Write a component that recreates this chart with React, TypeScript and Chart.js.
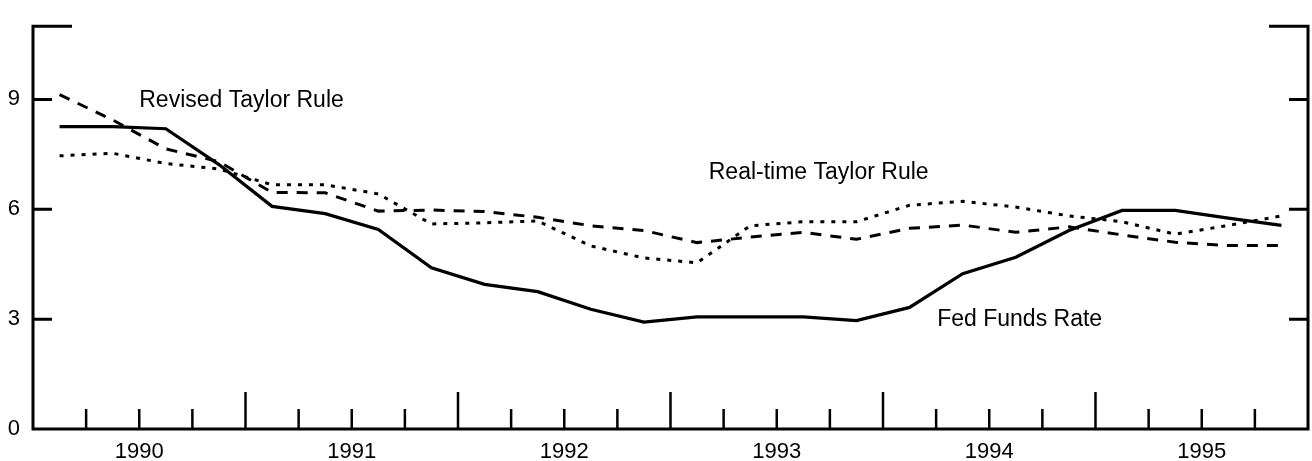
import React, { useEffect, useRef } from "react";
import { Chart, registerables } from "chart.js";

Chart.register(...registerables);

const quarters = [
  "1990Q1", "1990Q2", "1990Q3", "1990Q4",
  "1991Q1", "1991Q2", "1991Q3", "1991Q4",
  "1992Q1", "1992Q2", "1992Q3", "1992Q4",
  "1993Q1", "1993Q2", "1993Q3", "1993Q4",
  "1994Q1", "1994Q2", "1994Q3", "1994Q4",
  "1995Q1", "1995Q2", "1995Q3", "1995Q4",
];

const fedFunds = [
  8.26, 8.26, 8.2, 7.22, 6.08, 5.88, 5.45, 4.4,
  3.95, 3.75, 3.27, 2.92, 3.06, 3.06, 3.06, 2.96,
  3.32, 4.24, 4.69, 5.42, 5.97, 5.97, 5.76, 5.56,
];

const revisedTaylor = [
  9.13, 8.44, 7.65, 7.3, 6.46, 6.45, 5.95, 5.98,
  5.94, 5.78, 5.55, 5.42, 5.09, 5.24, 5.37, 5.18,
  5.48, 5.57, 5.37, 5.52, 5.3, 5.1, 5.01, 5.01,
];

const realTimeTaylor = [
  7.46, 7.53, 7.25, 7.1, 6.67, 6.67, 6.42, 5.6,
  5.63, 5.68, 5.0, 4.67, 4.54, 5.55, 5.66, 5.66,
  6.11, 6.22, 6.06, 5.82, 5.66, 5.32, 5.56, 5.82,
];

const yearLabels = ["1990", "1991", "1992", "1993", "1994", "1995"];
const yTicks = [0, 3, 6, 9];

const seriesNames = ["Fed Funds Rate", "Revised Taylor Rule", "Real-time Taylor Rule"];

function quarterPos(q: string): number {
  const year = parseInt(q.slice(0, 4), 10);
  const qn = parseInt(q.slice(5), 10);
  return year + (qn - 0.5) / 4;
}

const FONT = '"Liberation Sans", Arial, Helvetica, sans-serif';

const annotations = [
  { text: "Revised Taylor Rule", x: 1990.5, y: 8.79 },
  { text: "Real-time Taylor Rule", x: 1993.18, y: 6.82 },
  { text: "Fed Funds Rate", x: 1994.255, y: 2.8 },
];

const framePlugin = {
  id: "frame",
  afterDraw(chart: any) {
    const { ctx, chartArea } = chart;
    const xs = chart.scales.x;
    const ys = chart.scales.y;
    const { left, right, top, bottom } = chartArea;
    ctx.save();
    ctx.strokeStyle = "#000";
    ctx.lineCap = "butt";

    // frame
    ctx.lineWidth = 3;
    ctx.beginPath();
    ctx.moveTo(left + 39, top);
    ctx.lineTo(left, top);
    ctx.lineTo(left, bottom);
    ctx.lineTo(right, bottom);
    ctx.lineTo(right, top);
    ctx.lineTo(right - 39, top);
    ctx.stroke();

    // y ticks on both sides
    ctx.lineWidth = 3;
    yTicks.forEach((v) => {
      if (v === 0) return;
      const py = ys.getPixelForValue(v);
      ctx.beginPath();
      ctx.moveTo(left, py);
      ctx.lineTo(left + 19, py);
      ctx.moveTo(right, py);
      ctx.lineTo(right - 19, py);
      ctx.stroke();
    });

    // x ticks: quarter boundaries, long at year boundaries
    ctx.lineWidth = 2.5;
    const firstYear = parseInt(yearLabels[0], 10);
    for (let i = 1; i < yearLabels.length * 4; i++) {
      const v = firstYear + i / 4;
      const px = xs.getPixelForValue(v);
      const len = i % 4 === 0 ? 37 : 20;
      ctx.beginPath();
      ctx.moveTo(px, bottom);
      ctx.lineTo(px, bottom - len);
      ctx.stroke();
    }

    // series annotations
    ctx.fillStyle = "#000";
    ctx.font = `23px ${FONT}`;
    ctx.textAlign = "left";
    ctx.textBaseline = "alphabetic";
    annotations.forEach((a) => {
      ctx.fillText(a.text, xs.getPixelForValue(a.x), ys.getPixelForValue(a.y));
    });
    ctx.restore();
  },
};

export default function App() {
  const ref = useRef<HTMLCanvasElement | null>(null);

  useEffect(() => {
    if (!ref.current) return;
    const xsPos = quarters.map(quarterPos);
    const toPts = (arr: number[]) => arr.map((y, i) => ({ x: xsPos[i], y }));
    const chart = new Chart(ref.current, {
      type: "line",
      data: {
        datasets: [
          {
            label: seriesNames[0],
            data: toPts(fedFunds),
            borderColor: "#000",
            borderWidth: 3.2,
            pointRadius: 0,
            tension: 0,
            fill: false,
          },
          {
            label: seriesNames[1],
            data: toPts(revisedTaylor),
            borderColor: "#000",
            borderWidth: 3,
            borderDash: [11, 9],
            pointRadius: 0,
            tension: 0,
            fill: false,
          },
          {
            label: seriesNames[2],
            data: toPts(realTimeTaylor),
            borderColor: "#000",
            borderWidth: 3,
            borderDash: [4, 7],
            pointRadius: 0,
            tension: 0,
            fill: false,
          },
        ],
      },
      options: {
        animation: false,
        responsive: false,
        layout: { padding: { top: 11, right: 4, left: 0, bottom: 0 } },
        plugins: {
          legend: { display: false },
          tooltip: { enabled: false },
        },
        scales: {
          x: {
            type: "linear",
            min: 1990,
            max: 1996,
            grid: { display: false, drawTicks: false },
            border: { display: false },
            afterBuildTicks: (scale: any) => {
              scale.ticks = yearLabels.map((y) => ({ value: parseInt(y, 10) + 0.5 }));
            },
            afterFit: (scale: any) => {
              scale.height = 32;
            },
            ticks: {
              autoSkip: false,
              maxRotation: 0,
              padding: 10,
              color: "#000",
              font: { family: FONT, size: 22 },
              callback: (_v: any, i: number) => yearLabels[i],
            },
          },
          y: {
            min: 0,
            max: 11,
            grid: { display: false, drawTicks: false },
            border: { display: false },
            afterBuildTicks: (scale: any) => {
              scale.ticks = yTicks.map((v) => ({ value: v }));
            },
            afterFit: (scale: any) => {
              scale.width = 33;
            },
            ticks: {
              padding: 13,
              color: "#000",
              font: { family: FONT, size: 22 },
              callback: (v: any) => String(v),
            },
          },
        },
      },
      plugins: [framePlugin],
    });
    return () => chart.destroy();
  }, []);

  return (
    <div style={{ position: "fixed", left: 0, top: 0, width: 1312, height: 461, background: "#fff" }}>
      <canvas ref={ref} width={1312} height={461} style={{ width: 1312, height: 461, display: "block" }} />
    </div>
  );
}
